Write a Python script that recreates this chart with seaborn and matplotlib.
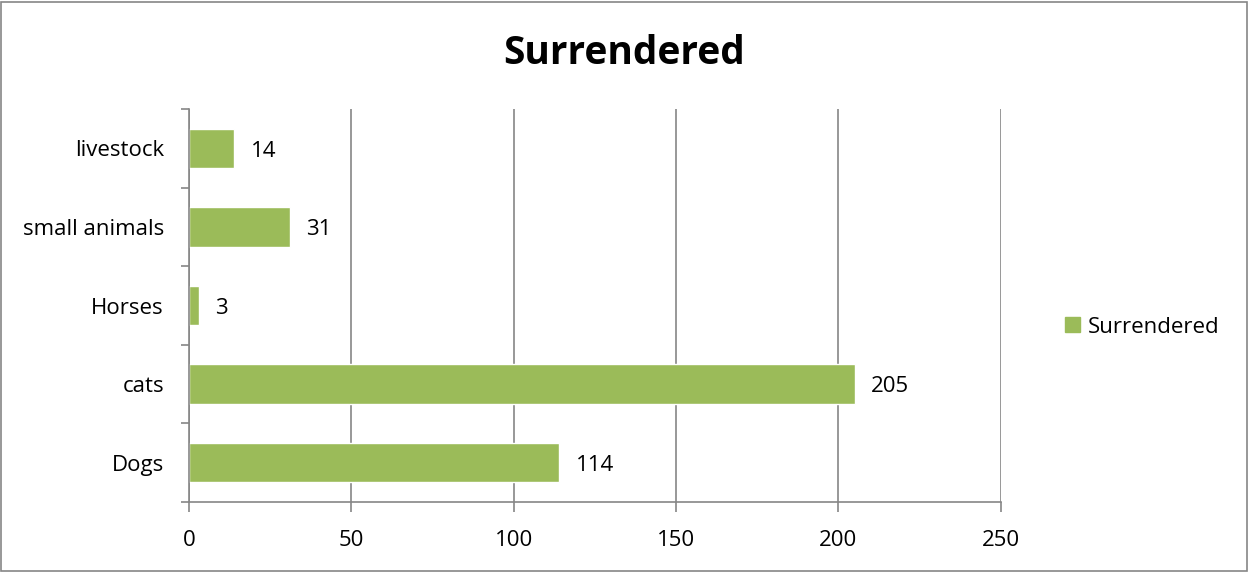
import numpy as np
import pandas as pd
from matplotlib import pyplot as plt
from matplotlib.patches import Rectangle
import seaborn as sns

sns.set_style('white')
plt.rcParams['font.family'] = ['Open Sans', 'DejaVu Sans']
plt.rcParams['text.color'] = 'black'
plt.rcParams['xtick.color'] = 'black'
plt.rcParams['ytick.color'] = 'black'

categories = ['livestock', 'small animals', 'Horses', 'cats', 'Dogs']
surrendered = [14, 31, 3, 205, 114]
x_ticks = [0, 50, 100, 150, 200, 250]

df = pd.DataFrame({'category': categories, 'Surrendered': surrendered})

fig = plt.figure(figsize=(12.49, 5.72), dpi=100)
ax = fig.add_axes([0.1513, 0.1224, 0.650, 0.687])

sns.barplot(data=df, x='Surrendered', y='category', order=categories,
            color='#9BBB59', saturation=1, width=0.5, ax=ax)

ax.set_xlim(0, 250)
ax.set_ylim(len(categories) - 0.5, -0.5)
ax.set_xticks(x_ticks)
ax.set_xlabel('')
ax.set_ylabel('')
ax.grid(True, axis='x', color='#868686', linewidth=1.2)
ax.set_axisbelow(True)

# category ticks sit on the boundaries between bars
ax.set_yticks(np.arange(len(categories)))
ax.set_yticklabels(categories)
ax.set_yticks(np.arange(len(categories) + 1) - 0.5, minor=True)
ax.tick_params(axis='y', which='major', left=True, length=0, pad=18, labelsize=16)
ax.tick_params(axis='y', which='minor', left=True, length=6, width=1.2,
               color='#868686', direction='out')
ax.tick_params(axis='x', bottom=True, length=7, width=1.2, color='#868686',
               direction='out', labelsize=16, pad=13)

for side in ['top', 'right']:
    ax.spines[side].set_visible(False)
for side in ['left', 'bottom']:
    ax.spines[side].set_color('#868686')
    ax.spines[side].set_linewidth(1.2)

for i, v in enumerate(surrendered):
    ax.annotate(str(v), (v, i), xytext=(12, -2), textcoords='offset points',
                va='center', ha='left', fontsize=16)

fig.text(0.5, 0.906, 'Surrendered', ha='center', va='center',
         fontsize=28, fontweight='bold')

handle = Rectangle((0, 0), 1, 1, color='#9BBB59')
fig.legend([handle], ['Surrendered'], loc='center left',
           bbox_to_anchor=(0.853, 0.428), frameon=False, fontsize=16,
           handlelength=0.65, handleheight=0.65, handletextpad=0.35,
           borderaxespad=0, borderpad=0)

fig.patches.append(Rectangle((0.001, 0.002), 0.997, 0.995, transform=fig.transFigure,
                             fill=False, edgecolor='#868686', linewidth=1.2))

plt.savefig('out.png', dpi=100)
